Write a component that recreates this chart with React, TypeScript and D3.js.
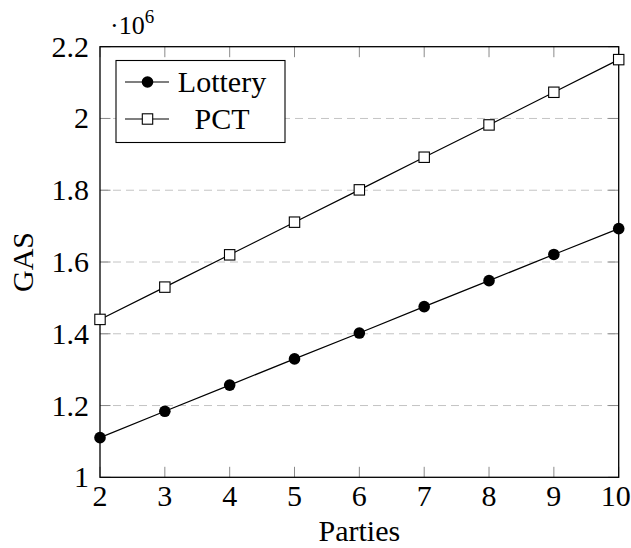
import React from "react";
import * as d3 from "d3";

const parties = [2, 3, 4, 5, 6, 7, 8, 9, 10];
const lottery = [1.1105, 1.184, 1.257, 1.33, 1.402, 1.4755, 1.548, 1.621, 1.693];
const pct = [1.44, 1.53, 1.62, 1.711, 1.801, 1.892, 1.982, 2.073, 2.164];
const yTicks = [1, 1.2, 1.4, 1.6, 1.8, 2, 2.2];
const xTicks = [2, 3, 4, 5, 6, 7, 8, 9, 10];
const seriesNames = ["Lottery", "PCT"];

const W = 631;
const H = 548;
const left = 100;
const right = 618.7;
const top = 46.7;
const bottom = 477.3;
const FONT = "Liberation Serif";
const FS = 30;

export default function App() {
  const x = d3.scaleLinear().domain([2, 10]).range([left, right]);
  const y = d3.scaleLinear().domain([1, 2.2]).range([bottom, top]);
  const line = d3
    .line<[number, number]>()
    .x((d) => x(d[0]))
    .y((d) => y(d[1]));
  const lotPts: [number, number][] = parties.map((p, i) => [p, lottery[i]]);
  const pctPts: [number, number][] = parties.map((p, i) => [p, pct[i]]);
  const fmt = (v: number) => (Number.isInteger(v) ? String(v) : v.toFixed(1));
  const tickLen = 10.5;
  const r = 5.8;
  const sq = 5.2;
  const ts = { fontFamily: FONT };

  return (
    <svg
      width={W}
      height={H}
      style={{ position: "absolute", left: 0, top: 0, background: "#fff", fontFamily: FONT }}
    >
      <rect x={0} y={0} width={W} height={H} fill="#fff" />
      {yTicks
        .filter((t) => t > 1 && t < 2.2)
        .map((t) => (
          <line
            key={"g" + t}
            x1={left}
            x2={right}
            y1={y(t)}
            y2={y(t)}
            stroke="#c4c4c4"
            strokeWidth={1}
            strokeDasharray="8,5"
          />
        ))}
      {xTicks.map((t) => (
        <g key={"xt" + t} stroke="#8a8a8a" strokeWidth={1}>
          <line x1={x(t)} x2={x(t)} y1={bottom} y2={bottom - tickLen} />
          <line x1={x(t)} x2={x(t)} y1={top} y2={top + tickLen} />
        </g>
      ))}
      {yTicks.map((t) => (
        <g key={"yt" + t} stroke="#8a8a8a" strokeWidth={1}>
          <line x1={left} x2={left + tickLen} y1={y(t)} y2={y(t)} />
          <line x1={right} x2={right - tickLen} y1={y(t)} y2={y(t)} />
        </g>
      ))}
      <path d={line(lotPts) || ""} fill="none" stroke="#000" strokeWidth={1.2} />
      <path d={line(pctPts) || ""} fill="none" stroke="#000" strokeWidth={1.2} />
      <rect
        x={left}
        y={top}
        width={right - left}
        height={bottom - top}
        fill="none"
        stroke="#000"
        strokeWidth={1.3}
      />
      {lotPts.map((d, i) => (
        <circle key={"lc" + i} cx={x(d[0])} cy={y(d[1])} r={r} fill="#000" />
      ))}
      {pctPts.map((d, i) => (
        <rect
          key={"ps" + i}
          x={x(d[0]) - sq}
          y={y(d[1]) - sq}
          width={sq * 2}
          height={sq * 2}
          fill="#fff"
          stroke="#000"
          strokeWidth={1.1}
        />
      ))}
      {xTicks.map((t) => (
        <text key={"xl" + t} x={t === 10 ? x(t) - 3 : x(t)} y={506} textAnchor="middle" fontSize={FS} style={ts}>
          {t}
        </text>
      ))}
      {yTicks.map((t) => (
        <text key={"yl" + t} x={89} y={y(t) + 10} textAnchor="end" fontSize={FS} style={ts}>
          {fmt(t)}
        </text>
      ))}
      <text x={110} y={33.5} fontSize={26} style={ts}>
        ·10
        <tspan fontSize={19} dy={-11}>
          6
        </tspan>
      </text>
      <text x={(left + right) / 2} y={541} textAnchor="middle" fontSize={FS} style={ts}>
        Parties
      </text>
      <text
        transform={`translate(33, ${(top + bottom) / 2}) rotate(-90)`}
        textAnchor="middle"
        fontSize={FS}
        style={ts}
      >
        GAS
      </text>
      <rect x={116} y={60.5} width={169} height={82} fill="#fff" stroke="#000" strokeWidth={1.1} />
      <line x1={125} x2={169} y1={82} y2={82} stroke="#000" strokeWidth={1.2} />
      <circle cx={147.5} cy={82} r={r} fill="#000" />
      <text x={222} y={92} textAnchor="middle" fontSize={FS} style={ts}>
        {seriesNames[0]}
      </text>
      <line x1={125} x2={169} y1={119} y2={119} stroke="#000" strokeWidth={1.2} />
      <rect x={147.5 - sq} y={119 - sq} width={sq * 2} height={sq * 2} fill="#fff" stroke="#000" strokeWidth={1.1} />
      <text x={222} y={129} textAnchor="middle" fontSize={FS} style={ts}>
        {seriesNames[1]}
      </text>
    </svg>
  );
}
